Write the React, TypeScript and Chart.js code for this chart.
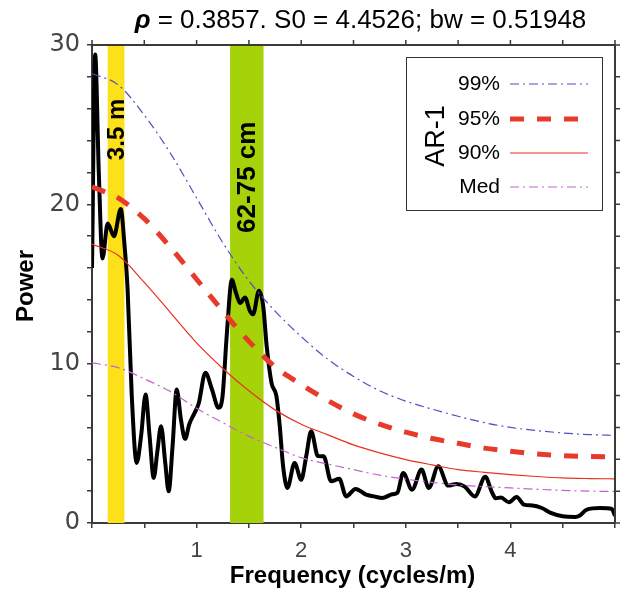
import React, { useEffect, useRef } from "react";
import { Chart, registerables } from "chart.js";

Chart.register(...registerables);

const FONT = "'Liberation Sans', Arial, Helvetica, sans-serif";
const WIDE_FONT = "'DejaVu Sans', 'Liberation Sans', Arial, sans-serif";

const titleRho = "ρ";
const titleRest = " = 0.3857. S0 = 4.4526; bw = 0.51948";
const xTitle = "Frequency (cycles/m)";
const yTitle = "Power";
const legendTitle = "AR-1";

const xTickLabels = [1, 2, 3, 4];
const yTickLabels = [0, 10, 20, 30];

const gridFreq = [0, 0.25, 0.5, 0.75, 1, 1.25, 1.5, 1.75, 2, 2.25, 2.5, 2.75, 3, 3.25, 3.5, 3.75, 4, 4.25, 4.5, 4.75, 5];
const p99 = [28.2, 27.5, 25.6, 23.2, 20.4, 17.6, 15.2, 13.3, 11.7, 10.3, 9.2, 8.3, 7.65, 7.15, 6.7, 6.3, 6.0, 5.8, 5.65, 5.55, 5.5];
const p95 = [21.1, 20.4, 19.1, 17.3, 15.3, 13.3, 11.4, 9.8, 8.7, 7.7, 6.85, 6.2, 5.7, 5.3, 5.0, 4.7, 4.5, 4.33, 4.23, 4.18, 4.15];
const p90 = [17.5, 16.8, 15.1, 13.2, 11.3, 9.7, 8.3, 7.1, 6.2, 5.55, 4.9, 4.4, 3.98, 3.65, 3.35, 3.18, 3.04, 2.92, 2.83, 2.79, 2.77];
const pMed = [10.05, 9.75, 9.05, 8.25, 7.2, 6.3, 5.45, 4.75, 4.1, 3.7, 3.35, 3.0, 2.75, 2.55, 2.38, 2.28, 2.2, 2.12, 2.05, 2.0, 1.98];

const specFreq = [
  0, 0.03, 0.065, 0.1, 0.15, 0.21, 0.275, 0.31, 0.34, 0.38, 0.427, 0.47, 0.512, 0.55, 0.59, 0.625, 0.66, 0.7, 0.733,
  0.77, 0.81, 0.85, 0.89, 0.93, 0.98, 1.02, 1.084, 1.147, 1.21, 1.248, 1.29, 1.337, 1.374, 1.416, 1.463, 1.51, 1.54,
  1.596, 1.637, 1.67, 1.716, 1.763, 1.795, 1.827, 1.868, 1.937, 2.0, 2.048, 2.095, 2.16, 2.215, 2.285, 2.364, 2.43,
  2.52, 2.62, 2.696, 2.775, 2.87, 2.92, 2.975, 3.06, 3.15, 3.22, 3.31, 3.406, 3.485, 3.56, 3.66, 3.76, 3.82, 3.86,
  3.91, 3.985, 4.06, 4.13, 4.21, 4.3, 4.386, 4.5, 4.62, 4.66, 4.73, 4.86, 4.97, 5.0,
];
const specPower = [
  16.0, 29.4, 22.0, 16.6, 18.8, 18.0, 19.7, 17.5, 14.7, 8.0, 3.77, 5.5, 8.07, 5.5, 2.83, 4.5, 6.08, 3.8, 1.99,
  4.8, 8.38, 6.5, 5.28, 6.2, 6.9, 7.5, 9.43, 8.38, 7.23, 7.96, 11.95, 15.26, 14.5, 13.8, 14.15, 13.3, 13.1,
  14.57, 13.6, 11.1, 8.8, 7.96, 6.08, 3.56, 2.2, 3.77, 2.72, 4.19, 5.76, 4.2, 4.19, 2.62, 2.77, 1.67,
  2.14, 1.78, 1.67, 1.57, 1.8, 1.9, 3.14, 2.09, 3.35, 2.2, 3.56, 2.35, 2.45, 2.3, 1.67, 2.9, 1.99, 1.55,
  1.6, 1.3, 1.63, 1.15, 1.1, 0.94, 0.63, 0.42, 0.38, 0.45, 0.84, 0.94, 0.88, 0.45,
];

const seriesLabels = ["99%", "95%", "90%", "Med"];
const bandStart = [0.15, 1.32];
const bandEnd = [0.31, 1.64];
const bandLabels = ["3.5 m", "62-75 cm"];
const bandLabelAt = [24.7, 21.7];
const bandColors = ["#fce01a", "#a6d20a"];
const bandFontSizes = [24, 26];

const AXIS = "#3a3a3a";

const pts = (xs: number[], ys: number[]) => xs.map((x, i) => ({ x, y: ys[i] }));

const decor = {
  id: "decor",
  beforeDatasetsDraw(chart: any) {
    const { ctx, chartArea: a, scales } = chart;
    const x = scales.x;
    ctx.save();
    bandStart.forEach((s, i) => {
      const x0 = x.getPixelForValue(s);
      const x1 = x.getPixelForValue(bandEnd[i]);
      ctx.fillStyle = bandColors[i];
      ctx.fillRect(x0, a.top, x1 - x0, a.bottom - a.top);
    });
    ctx.restore();
  },
  afterDatasetsDraw(chart: any) {
    const { ctx, chartArea: a, scales } = chart;
    const x = scales.x;
    const y = scales.y;
    ctx.save();
    // band labels
    ctx.fillStyle = "#000";
    ctx.textAlign = "center";
    ctx.textBaseline = "middle";
    bandLabels.forEach((t, i) => {
      ctx.font = `bold ${bandFontSizes[i]}px ${FONT}`;
      const cx = (x.getPixelForValue(bandStart[i]) + x.getPixelForValue(bandEnd[i])) / 2;
      const cy = y.getPixelForValue(bandLabelAt[i]);
      ctx.save();
      ctx.translate(cx + 1, cy);
      ctx.rotate(-Math.PI / 2);
      ctx.fillText(t, 0, 0);
      ctx.restore();
    });

    // frame top & right with ticks
    ctx.strokeStyle = AXIS;
    ctx.lineWidth = 2;
    ctx.beginPath();
    ctx.moveTo(a.left, a.top);
    ctx.lineTo(a.right, a.top);
    ctx.lineTo(a.right, a.bottom);
    ctx.stroke();
    ctx.lineWidth = 1.5;
    ctx.beginPath();
    x.ticks.forEach((t: any) => {
      const px = x.getPixelForValue(t.value);
      ctx.moveTo(px, a.top);
      ctx.lineTo(px, a.top - 5);
    });
    y.ticks.forEach((t: any) => {
      const py = y.getPixelForValue(t.value);
      ctx.moveTo(a.right, py);
      ctx.lineTo(a.right + 5, py);
    });
    ctx.stroke();

    // legend
    const lx = 406, ly = 57, lw = 196, lh = 153;
    ctx.fillStyle = "#fff";
    ctx.fillRect(lx, ly, lw, lh);
    ctx.strokeStyle = "#333";
    ctx.lineWidth = 1;
    ctx.strokeRect(lx + 0.5, ly + 0.5, lw, lh);
    ctx.font = `21px ${FONT}`;
    ctx.textAlign = "right";
    ctx.textBaseline = "middle";
    const rows = [84, 119, 153, 187];
    chart.data.datasets.slice(1).forEach((ds: any, i: number) => {
      ctx.fillStyle = "#000";
      ctx.fillText(ds.label, 500, rows[i]);
      ctx.save();
      ctx.strokeStyle = ds.borderColor;
      ctx.lineWidth = ds.borderWidth;
      ctx.setLineDash(ds.borderDash || []);
      ctx.beginPath();
      ctx.moveTo(510, rows[i]);
      ctx.lineTo(588, rows[i]);
      ctx.stroke();
      ctx.restore();
    });
    ctx.save();
    ctx.fillStyle = "#000";
    ctx.font = `27px ${FONT}`;
    ctx.textAlign = "center";
    ctx.translate(437, 136);
    ctx.rotate(-Math.PI / 2);
    ctx.fillText(legendTitle, 0, 0);
    ctx.restore();

    // titles
    const cx = (a.left + a.right) / 2 + 7;
    ctx.fillStyle = "#000";
    ctx.textBaseline = "middle";
    ctx.font = `italic bold 26px ${FONT}`;
    const w1 = ctx.measureText(titleRho).width;
    ctx.font = `26px ${FONT}`;
    const w2 = ctx.measureText(titleRest).width;
    const sx = cx - (w1 + w2) / 2;
    ctx.textAlign = "left";
    ctx.font = `italic bold 26px ${FONT}`;
    ctx.fillText(titleRho, sx, 21);
    ctx.font = `26px ${FONT}`;
    ctx.fillText(titleRest, sx + w1, 21);

    ctx.font = `bold 24px ${FONT}`;
    ctx.textAlign = "center";
    ctx.fillText(xTitle, (a.left + a.right) / 2 - 1, 576);
    ctx.save();
    ctx.translate(26, (a.top + a.bottom) / 2 + 2);
    ctx.rotate(-Math.PI / 2);
    ctx.fillText(yTitle, 0, 0);
    ctx.restore();
    ctx.restore();
  },
};

export default function App() {
  const ref = useRef<HTMLCanvasElement | null>(null);
  useEffect(() => {
    if (!ref.current) return;
    const chart = new Chart(ref.current, {
      type: "line",
      data: {
        datasets: [
          {
            label: "spectrum",
            data: pts(specFreq, specPower),
            borderColor: "#000",
            borderWidth: 4,
            pointRadius: 0,
            cubicInterpolationMode: "monotone",
            order: 5,
          },
          {
            label: seriesLabels[0],
            data: pts(gridFreq, p99),
            borderColor: "#4b52c4",
            borderWidth: 1.2,
            borderDash: [9, 4, 2, 4],
            pointRadius: 0,
            cubicInterpolationMode: "monotone",
            order: 1,
          },
          {
            label: seriesLabels[1],
            data: pts(gridFreq, p95),
            borderColor: "#e83a2a",
            borderWidth: 5,
            borderDash: [14, 13],
            pointRadius: 0,
            cubicInterpolationMode: "monotone",
            order: 2,
          },
          {
            label: seriesLabels[2],
            data: pts(gridFreq, p90),
            borderColor: "#e8321e",
            borderWidth: 1.2,
            pointRadius: 0,
            cubicInterpolationMode: "monotone",
            order: 3,
          },
          {
            label: seriesLabels[3],
            data: pts(gridFreq, pMed),
            borderColor: "#c562d2",
            borderWidth: 1.2,
            borderDash: [9, 4, 2, 4],
            pointRadius: 0,
            cubicInterpolationMode: "monotone",
            order: 4,
          },
        ],
      },
      options: {
        responsive: false,
        devicePixelRatio: 1,
        animation: false,
        layout: { padding: { top: 45, right: 4, left: 0, bottom: 0 } },
        plugins: { legend: { display: false }, tooltip: { enabled: false }, title: { display: false } },
        scales: {
          x: {
            type: "linear",
            min: 0,
            max: 5,
            afterFit: (s: any) => {
              s.height = 67;
            },
            ticks: {
              stepSize: 0.5,
              autoSkip: false,
              maxRotation: 0,
              padding: 10,
              color: "#444",
              font: { family: FONT, size: 22 },
              callback: (v: any) => (xTickLabels.includes(Number(v)) ? String(v) : ""),
            },
            grid: { drawOnChartArea: false, tickLength: 5, color: AXIS, lineWidth: 1.5 },
            border: { display: true, color: AXIS, width: 2 },
          },
          y: {
            type: "linear",
            min: 0,
            max: 30,
            afterFit: (s: any) => {
              s.width = 92;
            },
            ticks: {
              stepSize: 2,
              autoSkip: false,
              padding: 7,
              color: "#444",
              font: { family: WIDE_FONT, size: 24 },
              callback: (v: any) => (yTickLabels.includes(Number(v)) ? String(v) : ""),
            },
            grid: { drawOnChartArea: false, tickLength: 5, color: AXIS, lineWidth: 1.5 },
            border: { display: true, color: AXIS, width: 2 },
          },
        },
      },
      plugins: [decor],
    } as any);
    return () => chart.destroy();
  }, []);
  return (
    <div style={{ position: "fixed", left: 0, top: 0, width: 625, height: 590, background: "#fff" }}>
      <canvas ref={ref} width={625} height={590} style={{ display: "block" }} />
    </div>
  );
}
